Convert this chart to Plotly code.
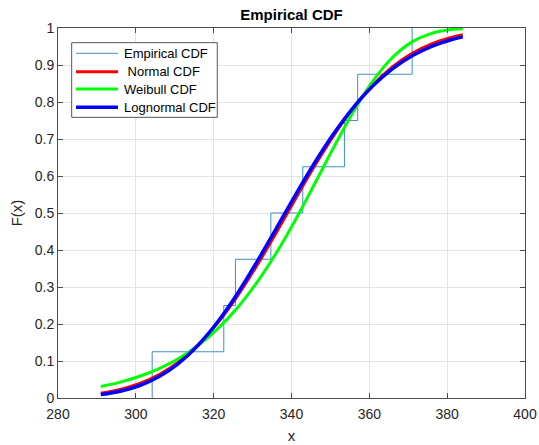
import plotly.graph_objects as go

# Empirical CDF (sorted sample values and step heights)
samples = [304.2, 304.2, 322.6, 325.6, 334.7, 342.9, 353.6, 357.0, 371.0]
ecdf_f = [0.0, 0.125, 0.25, 0.375, 0.5, 0.625, 0.75, 0.875, 1.0]

# Evaluation grid for fitted CDFs
x_fit = [291, 296, 301, 306, 311, 316, 321, 326, 331, 336, 341, 346, 351,
         356, 361, 366, 371, 376, 381, 384]
normal_cdf = [0.0131, 0.0232, 0.0392, 0.0633, 0.0975, 0.1436, 0.2025, 0.2741,
              0.3562, 0.4456, 0.5379, 0.6282, 0.7119, 0.7855, 0.8468, 0.8952,
              0.9315, 0.9572, 0.9744, 0.9817]
weibull_cdf = [0.0313, 0.0430, 0.0588, 0.0796, 0.1069, 0.1421, 0.1869, 0.2427,
               0.3105, 0.3905, 0.4813, 0.5797, 0.6802, 0.7754, 0.8577, 0.9208,
               0.9626, 0.9856, 0.9958, 0.9982]
lognormal_cdf = [0.0092, 0.0183, 0.0338, 0.0581, 0.0939, 0.1427, 0.2053, 0.2806,
                 0.3657, 0.4565, 0.5484, 0.6365, 0.7167, 0.7864, 0.8443, 0.8901,
                 0.9249, 0.9503, 0.9682, 0.9760]

series_names = ["Empirical CDF", "\u00a0Normal CDF", "Weibull CDF", "Lognormal CDF"]

x_ticks = [280, 300, 320, 340, 360, 380, 400]
y_ticks = [0, 0.1, 0.2, 0.3, 0.4, 0.5, 0.6, 0.7, 0.8, 0.9, 1]
y_tick_text = ["0", "0.1", "0.2", "0.3", "0.4", "0.5", "0.6", "0.7", "0.8", "0.9", "1"]

FONT = "Liberation Sans, Arial, sans-serif"

fig = go.Figure()
fig.add_trace(go.Scatter(x=samples, y=ecdf_f, mode="lines", line_shape="hv",
                         line=dict(color="#3d8fcc", width=1), name=series_names[0]))
fig.add_trace(go.Scatter(x=x_fit, y=normal_cdf, mode="lines", line_shape="spline",
                         line=dict(color="#ff0000", width=3), name=series_names[1]))
fig.add_trace(go.Scatter(x=x_fit, y=weibull_cdf, mode="lines", line_shape="spline",
                         line=dict(color="#00ff00", width=3), name=series_names[2]))
fig.add_trace(go.Scatter(x=x_fit, y=lognormal_cdf, mode="lines", line_shape="spline",
                         line=dict(color="#0000ff", width=3.5), name=series_names[3]))

axis_common = dict(
    showline=True, linecolor="#4d4d4d", linewidth=1, mirror="ticks",
    ticks="inside", ticklen=5, tickcolor="#4d4d4d", tickwidth=1,
    showgrid=True, gridcolor="#e3e3e3", gridwidth=1, zeroline=False,
    tickfont=dict(family=FONT, size=14, color="#262626"),
    automargin=False,
)

fig.update_xaxes(range=[280, 400], tickvals=x_ticks, ticklabelstandoff=3,
                 title=dict(text="x", font=dict(family=FONT, size=15, color="#262626"),
                            standoff=9),
                 **axis_common)
fig.update_yaxes(range=[0, 1], tickvals=y_ticks, ticktext=y_tick_text,
                 title=dict(text="F(x)", font=dict(family=FONT, size=15, color="#262626"),
                            standoff=8),
                 **axis_common)

# Legend box drawn in the MATLAB style (compact rows)
box_x0, box_x1, box_y0, box_y1 = 0.0293, 0.3411, 0.7586, 0.9603
row_y = [0.9316, 0.8819, 0.8351, 0.7857]
shapes = [dict(type="rect", xref="paper", yref="paper", x0=box_x0, x1=box_x1,
               y0=box_y0, y1=box_y1, fillcolor="white",
               line=dict(color="#555555", width=1), layer="above")]
annotations = []
for tr, ry in zip(fig.data, row_y):
    shapes.append(dict(type="line", xref="paper", yref="paper", x0=0.0385, x1=0.1285,
                       y0=ry, y1=ry, line=dict(color=tr.line.color, width=tr.line.width),
                       layer="above"))
    annotations.append(dict(text=tr.name, xref="paper", yref="paper", x=0.1370, y=ry,
                            xanchor="left", yanchor="middle", showarrow=False,
                            font=dict(family=FONT, size=13, color="#000000")))

fig.update_layout(
    width=539, height=445,
    margin=dict(l=58, r=14, t=28, b=47),
    paper_bgcolor="white", plot_bgcolor="white",
    title=dict(text="<b>Empirical CDF</b>", x=0.5, xanchor="center",
               xref="paper", y=1, yref="container", yanchor="top", pad=dict(t=9),
               font=dict(family=FONT, size=15, color="#000000")),
    showlegend=False,
    hovermode=False,
    shapes=shapes,
    annotations=annotations,
)

fig.write_html("out.html",
               config={"displayModeBar": False, "staticPlot": True},
               post_script="document.body.style.margin='0';document.body.style.overflow='hidden';")
